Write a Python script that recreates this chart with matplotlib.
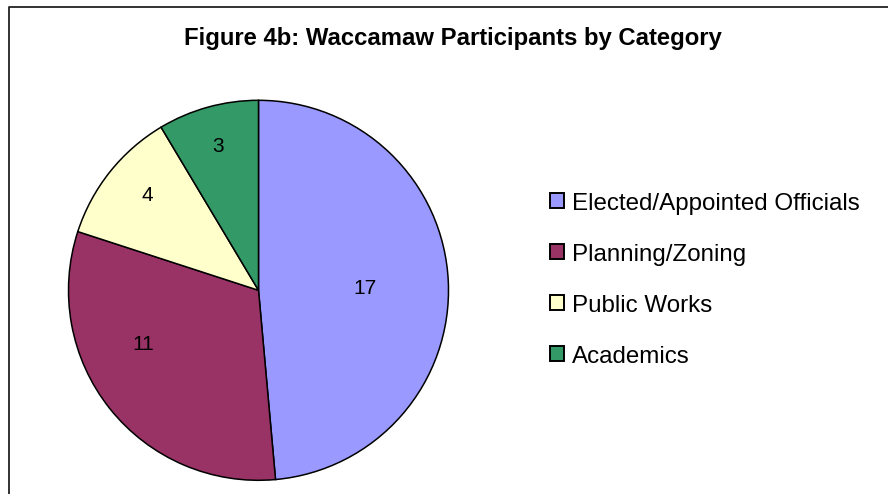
import numpy as np
import matplotlib.pyplot as plt
from matplotlib.patches import Patch
from matplotlib.lines import Line2D

plt.rcParams["font.family"] = ["Liberation Sans", "DejaVu Sans"]

# data
categories = ["Elected/Appointed Officials", "Planning/Zoning", "Public Works", "Academics"]
counts = [17, 11, 4, 3]
colors = ["#9999FF", "#993366", "#FFFFCC", "#339966"]
title = "Figure 4b: Waccamaw Participants by Category"

# where Excel put the value labels (fraction of radius, degrees off the wedge middle)
label_r = [0.56, 0.67, 0.77, 0.785]
label_shift = [-1.5, -13.3, -1.8, 0.2]

W, H = 888, 494
fig = plt.figure(figsize=(W / 100, H / 100), dpi=100)

# pie, centre ~ (258.5, 290) px, radius ~190 px
cx, cy, rad = 258.5, 290.3, 190.0
ax = fig.add_axes([(cx - rad) / W, (H - cy - rad) / H, 2 * rad / W, 2 * rad / H])
wedges, _ = ax.pie(
    counts,
    colors=colors,
    startangle=90,
    counterclock=False,
    radius=1.0,
    wedgeprops=dict(edgecolor="black", linewidth=1.1),
)
ax.set_xlim(-1, 1)
ax.set_ylim(-1, 1)
ax.set_aspect("auto")

for w, n, r, d in zip(wedges, counts, label_r, label_shift):
    mid = np.deg2rad((w.theta1 + w.theta2) / 2 + d)
    ax.text(r * np.cos(mid), r * np.sin(mid), str(n), ha="center", va="center",
            fontsize=15, color="black")

# title
fig.text(453 / W, 1 - 45 / H, title, ha="center", va="baseline",
         fontsize=17.2, fontweight="bold")

# legend
handles = [Patch(facecolor=c, edgecolor="black", linewidth=1.4) for c in colors]
fs = 17.4
fig.legend(
    handles, categories,
    loc="center left",
    bbox_to_anchor=(550 / W, 1 - 280 / H),
    frameon=False,
    fontsize=fs,
    handlelength=0.58,
    handleheight=0.58,
    handletextpad=0.34,
    labelspacing=1.2,
    borderpad=0,
    borderaxespad=0,
)

# chart area border (only top and left are inside the crop)
fig.add_artist(Line2D([9 / W, 9 / W, 1.0], [0.0, 1 - 7 / H, 1 - 7 / H],
                      transform=fig.transFigure, color="#222222", linewidth=1.3))

fig.savefig("out.png", dpi=100, facecolor="white")
